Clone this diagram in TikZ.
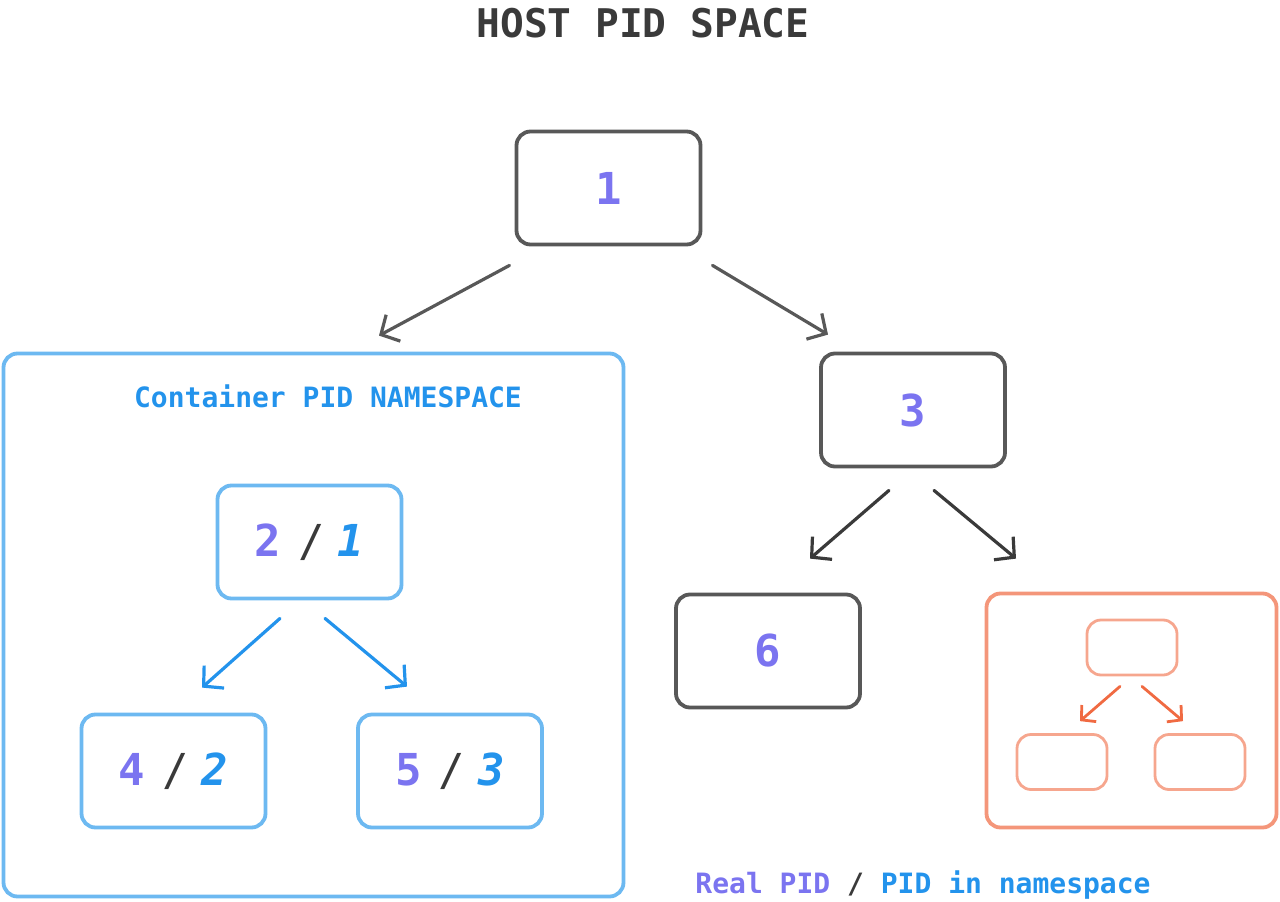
\documentclass[tikz,border=0pt]{standalone}
\usepackage{fontspec}
\setmonofont{DejaVu Sans Mono}
\usepackage{tikz}
\usetikzlibrary{positioning,arrows.meta,calc}
\definecolor{ink}{HTML}{585858}
\definecolor{inkdark}{HTML}{3A3A3A}
\definecolor{realpid}{HTML}{7B74F0}
\definecolor{nspid}{HTML}{2393EC}
\definecolor{nsframe}{HTML}{6DB9F1}
\definecolor{peach}{HTML}{F4967A}
\definecolor{peachdark}{HTML}{F06A42}

\tikzset{
  pidbox/.style={draw=ink,line width=3.8pt,rounded corners=14pt,minimum width=184pt,minimum height=113pt,
    font=\fontsize{44}{44}\selectfont\ttfamily\bfseries,text=realpid},
  nsbox/.style={pidbox,draw=nsframe},
  ghostbox/.style={draw=peach!85,line width=2.8pt,rounded corners=14pt,minimum width=90pt,minimum height=55pt},
  frame/.style={line width=3.8pt,rounded corners=14pt},
  kid/.style={-{Straight Barb[length=14pt,width=30pt]},line width=3.2pt,line cap=round,line join=round},
}
\newcommand{\nspair}[2]{{\color{realpid}#1}\hspace{17pt}{\color{inkdark}\mdseries/}\hspace{13pt}{\color{nspid}\itshape #2}}

\begin{document}
\begin{tikzpicture}[x=1pt,y=-1pt,font=\ttfamily\bfseries]
  \useasboundingbox (0,0) rectangle (1280,902);
  \node[text=inkdark,font=\fontsize{39.5}{40}\selectfont\ttfamily\bfseries] (title) at (643,23) {HOST PID SPACE};

  % host tree
  \node[pidbox] (p1) at (608.5,188) {1};
  \node[pidbox] (p3) at (913,410) {3};
  \node[pidbox] (p6) at (768,651) {6};

  % container namespace
  \node[draw=nsframe,frame,minimum width=620pt,minimum height=543pt] (ns) at (313.5,625) {};
  \node[text=nspid,font=\fontsize{28}{28}\selectfont\ttfamily\bfseries] (nslabel) at (328,396) {Container PID NAMESPACE};
  \node[nsbox] (p2) at (309.5,542) {\nspair{2}{1}};
  \node[nsbox] (p4) at (173.5,771) {\nspair{4}{2}};
  \node[nsbox] (p5) at (450,771) {\nspair{5}{3}};

  % other namespace
  \node[draw=peach,frame,minimum width=290pt,minimum height=234pt] (other) at (1131.5,710.5) {};
  \node[ghostbox] (o1) at (1132,647.5) {};
  \node[ghostbox] (o2) at (1062,762) {};
  \node[ghostbox] (o3) at (1200,762) {};

  \draw[kid,ink] ($(p1.south)+(-99,19)$) -- ($(ns.north)+(65.5,-16)$);
  \draw[kid,ink] ($(p1.south)+(104,19)$) -- ($(p3.north)+(-85,-17)$);
  \draw[kid,inkdark] ($(p3.south)+(-24,22)$) -- ($(p6.north)+(42,-34)$);
  \draw[kid,inkdark] ($(p3.south)+(21,22)$) -- ($(other.north)+(-115.5,-33)$);
  \draw[kid,nspid] ($(p2.south)+(-29.5,18)$) -- ($(p4.north)+(28.5,-25)$);
  \draw[kid,nspid] ($(p2.south)+(15.5,18)$) -- ($(p5.north)+(-43,-26)$);
  \draw[kid,peachdark,line width=2.8pt,-{Straight Barb[length=10pt,width=22pt]}] ($(o1.south)+(-12,10)$) -- ($(o2.north)+(18,-12)$);
  \draw[kid,peachdark,line width=2.8pt,-{Straight Barb[length=10pt,width=22pt]}] ($(o1.south)+(10,10)$) -- ($(o3.north)+(-17,-12)$);

  \node[font=\fontsize{28}{28}\selectfont\ttfamily\bfseries] (legend) at (923,885) {{\color{realpid}Real PID} {\color{inkdark}/} {\color{nspid}PID in namespace}};
\end{tikzpicture}
\end{document}
